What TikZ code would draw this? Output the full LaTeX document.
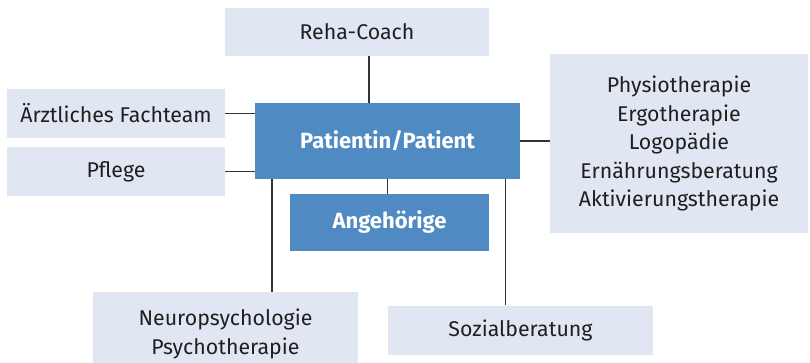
\documentclass[tikz,border=0pt]{standalone}
\usepackage{fontspec}
\setmainfont{Fira Sans}

\definecolor{boxlight}{HTML}{E1E7F2}
\definecolor{boxdark}{HTML}{508AC2}
\definecolor{linegray}{HTML}{333333}

\begin{document}
\begin{tikzpicture}[x=0.75pt,y=-0.75pt,
		team/.style={fill=boxlight,text=black!88,inner sep=0pt,align=center,font=\fontsize{16}{21.4}\selectfont},
		core/.style={fill=boxdark,text=white,inner sep=0pt,align=center,font=\fontsize{16.5}{21.4}\selectfont\bfseries},
		link/.style={draw=linegray,line width=1.05pt}]
		\useasboundingbox (0,0) rectangle (810,363);
		
		\node[core,minimum width=198.75pt,minimum height=57pt] (patient) at (387.5,141) {Patientin/Patient};
		\node[core,minimum width=149.25pt,minimum height=42.75pt] (angeh) at (389.5,222.5) {Angehörige};
		
		\node[team,minimum width=198pt,minimum height=36pt] (reha) at (357,32) {Reha-Coach};
		\node[team,minimum width=163.5pt,minimum height=36.75pt] (aerzte) at (116,113.5) {Ärztliches Fachteam};
		\node[team,minimum width=163.5pt,minimum height=36.75pt] (pflege) at (116,171.5) {Pflege};
		\node[team,minimum width=193.5pt,minimum height=134.25pt] (physio) at (679,143.5) {Physiotherapie\\Ergotherapie\\Logopädie\\Ernährungsberatung\\Aktivierungstherapie};
		\node[team,minimum width=198.75pt,minimum height=63pt] (neuro) at (225.5,334) {Neuropsychologie\\Psychotherapie};
		\node[team,minimum width=198.75pt,minimum height=36.75pt] (sozial) at (520.5,330) {Sozialberatung};
		
		% Verbindungen
		\draw[link] (369,0 |- reha.south) -- (369,0 |- patient.north);
		\draw[link] (aerzte.east) -- (aerzte.east -| patient.west);
		\draw[link] (pflege.east) -- (pflege.east -| patient.west);
		\draw[link] (patient.east) -- (patient.east -| physio.west);
		\draw[link] (patient.south) -- (patient.south |- angeh.north);
		\draw[link] (272,0 |- patient.south) -- (272,0 |- neuro.north);
		\draw[link] (505.5,0 |- patient.south) -- (505.5,0 |- sozial.north);
	\end{tikzpicture}
\end{document}
